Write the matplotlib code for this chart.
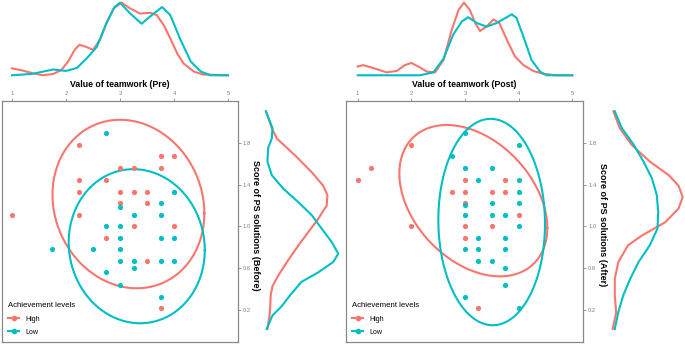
import numpy as np
import matplotlib
matplotlib.use("Agg")
import matplotlib.pyplot as plt
from matplotlib.lines import Line2D

plt.rcParams['font.family'] = ['Liberation Sans', 'DejaVu Sans']

RED = '#F8766D'
CYAN = '#00BFC4'
GREY = '#888888'

# ---- scatter data (teamwork value, PS score) ----
pre_high_x = [1.0, 2.25, 3.75, 4.0, 3.0, 3.25, 3.75, 2.25, 2.75, 2.25, 3.0, 3.25, 3.5,
              3.0, 3.5, 2.25, 3.25, 4.0, 2.75, 3.5, 3.75]
pre_high_y = [1.11, 1.78, 1.67, 1.67, 1.56, 1.56, 1.56, 1.44, 1.44, 1.33, 1.33, 1.33, 1.33,
              1.22, 1.22, 1.11, 1.0, 1.0, 0.89, 0.67, 0.22]
pre_low_x = [2.75, 4.0, 3.75, 3.0, 3.25, 3.75, 2.75, 3.0, 3.0, 3.75, 4.0, 1.75, 2.5, 3.0,
             3.0, 3.25, 3.75, 4.0, 3.25, 2.75, 3.0, 3.75]
pre_low_y = [1.89, 1.33, 1.22, 1.19, 1.11, 1.11, 1.0, 1.0, 0.89, 0.89, 0.89, 0.78, 0.78, 0.78,
             0.67, 0.67, 0.67, 0.67, 0.6, 0.56, 0.44, 0.33]

post_high_x = [1.0, 1.25, 2.0, 2.0, 3.0, 3.75, 2.75, 3.0, 3.5, 3.75, 3.0, 4.0, 3.0, 3.5, 3.0, 3.25]
post_high_y = [1.44, 1.56, 1.78, 1.0, 1.44, 1.44, 1.33, 1.33, 1.33, 1.33, 1.22, 1.11, 1.0, 1.0,
               0.89, 0.22]
post_low_x = [3.0, 4.0, 2.75, 3.0, 3.5, 3.25, 4.0, 4.0, 3.0, 3.5, 4.0, 3.0, 3.5, 3.75, 4.0,
              3.25, 3.75, 3.0, 3.25, 3.75, 3.25, 3.5, 3.75, 3.75, 3.0, 4.0]
post_low_y = [1.89, 1.78, 1.67, 1.56, 1.56, 1.44, 1.44, 1.33, 1.2, 1.22, 1.22, 1.11, 1.11, 1.11,
              1.0, 0.89, 0.89, 0.78, 0.78, 0.78, 0.67, 0.67, 0.6, 0.44, 0.33, 0.22]

# ---- ellipses: centre x, centre y, half width, half height, correlation ----
pre_high_ell = [3.156, 1.214, 1.406, 0.805, -0.11]
pre_low_ell = [3.31, 0.811, 1.26, 0.736, -0.05]
post_high_ell = [3.155, 1.246, 1.379, 0.723, -0.36]
post_low_ell = [3.497, 1.042, 0.994, 0.986, -0.02]

# ---- marginal densities (relative height) ----
top_pre_high_x = [1.0, 1.2, 1.385, 1.57, 1.76, 1.91, 2.04, 2.16, 2.25, 2.38, 2.5, 2.63, 2.75, 2.88,
                  3.03, 3.19, 3.37, 3.56, 3.68, 3.81, 3.93, 4.06, 4.18, 4.37, 4.55, 5.0]
top_pre_high_h = [0.096, 0.064, 0.028, 0.0, 0.018, 0.07, 0.19, 0.35, 0.42, 0.39, 0.35, 0.49, 0.72,
                  0.92, 1.0, 0.92, 0.85, 0.86, 0.83, 0.69, 0.51, 0.30, 0.16, 0.05, 0.01, 0.0]
top_pre_low_x = [1.0, 1.385, 1.76, 2.0, 2.2, 2.38, 2.57, 2.75, 2.9, 3.0, 3.19, 3.4, 3.59, 3.78,
                 3.93, 4.12, 4.31, 4.5, 4.68, 5.0]
top_pre_low_h = [0.0, 0.02, 0.08, 0.06, 0.1, 0.23, 0.39, 0.72, 0.94, 1.0, 0.85, 0.71, 0.83, 0.94,
                 0.83, 0.49, 0.19, 0.05, 0.0, 0.0]
top_post_high_x = [1.0, 1.1, 1.29, 1.54, 1.73, 1.88, 2.0, 2.13, 2.29, 2.44, 2.6, 2.75, 2.88, 2.98,
                   3.09, 3.19, 3.28, 3.4, 3.53, 3.64, 3.78, 3.93, 4.09, 4.27, 4.46, 4.71, 5.0]
top_post_high_h = [0.12, 0.14, 0.10, 0.04, 0.06, 0.14, 0.17, 0.12, 0.05, 0.04, 0.21, 0.62, 0.9, 1.0,
                   0.9, 0.72, 0.61, 0.67, 0.77, 0.72, 0.49, 0.26, 0.14, 0.06, 0.02, 0.0, 0.0]
top_post_low_x = [1.0, 2.16, 2.41, 2.6, 2.78, 2.94, 3.06, 3.22, 3.4, 3.59, 3.78, 3.87, 3.96, 4.09,
                  4.24, 4.4, 4.52, 5.0]
top_post_low_h = [0.0, 0.0, 0.04, 0.23, 0.56, 0.74, 0.8, 0.72, 0.67, 0.72, 0.8, 0.84, 0.79, 0.53,
                  0.21, 0.05, 0.0, 0.0]

side_y = [2.10, 1.94, 1.84, 1.68, 1.52, 1.39, 1.30, 1.20, 1.07, 0.95, 0.82, 0.66, 0.53, 0.43,
          0.34, 0.18, 0.02]
side_before_high_h = [0.0, 0.08, 0.15, 0.40, 0.63, 0.79, 0.85, 0.84, 0.72, 0.59, 0.45, 0.29, 0.17,
                      0.09, 0.065, 0.055, 0.02]
side_before_low_y = [2.10, 1.94, 1.84, 1.75, 1.62, 1.49, 1.36, 1.23, 1.11, 0.98, 0.85, 0.74, 0.66,
                     0.56, 0.47, 0.34, 0.24, 0.15, 0.02]
side_before_low_h = [0.0, 0.09, 0.08, 0.03, 0.02, 0.08, 0.24, 0.45, 0.63, 0.77, 0.91, 1.0, 0.93,
                     0.72, 0.49, 0.33, 0.22, 0.09, 0.01]
side_after_high_y = [2.10, 1.94, 1.78, 1.62, 1.49, 1.39, 1.28, 1.17, 1.04, 0.91, 0.82, 0.66, 0.50,
                     0.34, 0.18, 0.02]
side_after_high_h = [0.01, 0.10, 0.27, 0.53, 0.80, 0.94, 1.0, 0.94, 0.75, 0.41, 0.22, 0.08, 0.03,
                     0.03, 0.05, 0.0]
side_after_low_y = [2.10, 1.94, 1.78, 1.62, 1.46, 1.30, 1.14, 0.98, 0.82, 0.66, 0.50, 0.34, 0.18,
                    0.02]
side_after_low_h = [0.03, 0.13, 0.30, 0.44, 0.56, 0.63, 0.65, 0.64, 0.53, 0.37, 0.25, 0.15, 0.08,
                    0.03]

x_ticks = [1, 2, 3, 4, 5]
y_ticks = [0.2, 0.6, 1.0, 1.4, 1.8]

W, H = 685, 344
fig = plt.figure(figsize=(W / 100, H / 100), dpi=100)


def box(l, t, r, b):
    return [l / W, 1 - b / H, (r - l) / W, (b - t) / H]


def ellipse(p):
    cx, cy, sx, sy, r = p
    t = np.linspace(0, 2 * np.pi, 200)
    return cx + sx * np.cos(t), cy + sy * (r * np.cos(t) + np.sqrt(1 - r * r) * np.sin(t))


def panel(xlim, main_l, main_r, top_label, side_label, side_l, side_r, label_x, side_xlim,
          hx, hy, lx, ly, ell_h, ell_l, top_h, top_l, side_h, side_lo):
    ax = fig.add_axes(box(main_l, 100.5, main_r, 342))
    ax.scatter(hx, hy, s=14, color=RED, zorder=3, linewidths=0)
    ax.scatter(lx, ly, s=14, color=CYAN, zorder=3, linewidths=0)
    ax.plot(*ellipse(ell_h), color=RED, lw=1.5)
    ax.plot(*ellipse(ell_l), color=CYAN, lw=1.5)
    ax.set_xlim(*xlim)
    ax.set_ylim(-0.104, 2.203)
    ax.xaxis.tick_top()
    ax.yaxis.tick_right()
    ax.set_xticks(x_ticks)
    ax.set_yticks(y_ticks)
    ax.set_yticklabels([f'{v:.1f}' for v in y_ticks])
    ax.tick_params(length=2.5, width=0.6, color=GREY, labelsize=4.2, labelcolor='#808080', pad=1)
    for s in ax.spines.values():
        s.set_color(GREY)
        s.set_linewidth(0.9)
    handles = [Line2D([], [], color=RED, marker='o', ms=3, lw=1.5, label='High'),
               Line2D([], [], color=CYAN, marker='o', ms=3, lw=1.5, label='Low')]
    leg = ax.legend(handles=handles, title='Achievement levels', loc='lower left', frameon=False,
                    fontsize=5, title_fontsize=5.6, handlelength=1.6, borderaxespad=0.5,
                    labelspacing=0.85, handletextpad=0.8, bbox_to_anchor=(0.0, 0.0))
    leg._legend_box.align = 'left'
    leg._legend_box.sep = 5

    # top marginal density
    axt = fig.add_axes(box(main_l, 0, main_r, 80))
    axt.plot(top_h[0], top_h[1], color=RED, lw=1.5, solid_joinstyle='round')
    axt.plot(top_l[0], top_l[1], color=CYAN, lw=1.5, solid_joinstyle='round')
    axt.set_xlim(*xlim)
    axt.set_ylim(-0.065, 1.037)
    axt.axis('off')
    fig.text((main_l + main_r) / 2 / W, 1 - 84.5 / H, top_label, ha='center', va='center',
             fontsize=6.3, fontweight='bold')

    # right marginal density
    axs = fig.add_axes(box(side_l, 100.5, side_r, 342))
    axs.plot(side_h[1], side_h[0], color=RED, lw=1.5, solid_joinstyle='round')
    axs.plot(side_lo[1], side_lo[0], color=CYAN, lw=1.5, solid_joinstyle='round')
    axs.set_xlim(*side_xlim)
    axs.set_ylim(-0.104, 2.203)
    axs.axis('off')
    fig.text(label_x / W, 1 - 225 / H, side_label, ha='center', va='center', rotation=270,
             fontsize=6.5, fontweight='bold')


panel((0.815, 5.185), 2, 238, 'Value of teamwork (Pre)', 'Score of PS solutions (Before)',
      262, 345, 256, (-0.055, 1.093),
      pre_high_x, pre_high_y, pre_low_x, pre_low_y, pre_high_ell, pre_low_ell,
      (top_pre_high_x, top_pre_high_h), (top_pre_low_x, top_pre_low_h),
      (side_y, side_before_high_h), (side_before_low_y, side_before_low_h))

panel((0.782, 5.205), 346, 583.3, 'Value of teamwork (Post)', 'Score of PS solutions (After)',
      608, 685, 603, (-0.067, 1.033),
      post_high_x, post_high_y, post_low_x, post_low_y, post_high_ell, post_low_ell,
      (top_post_high_x, top_post_high_h), (top_post_low_x, top_post_low_h),
      (side_after_high_y, side_after_high_h), (side_after_low_y, side_after_low_h))

fig.savefig('out.png', dpi=100, facecolor='white')
